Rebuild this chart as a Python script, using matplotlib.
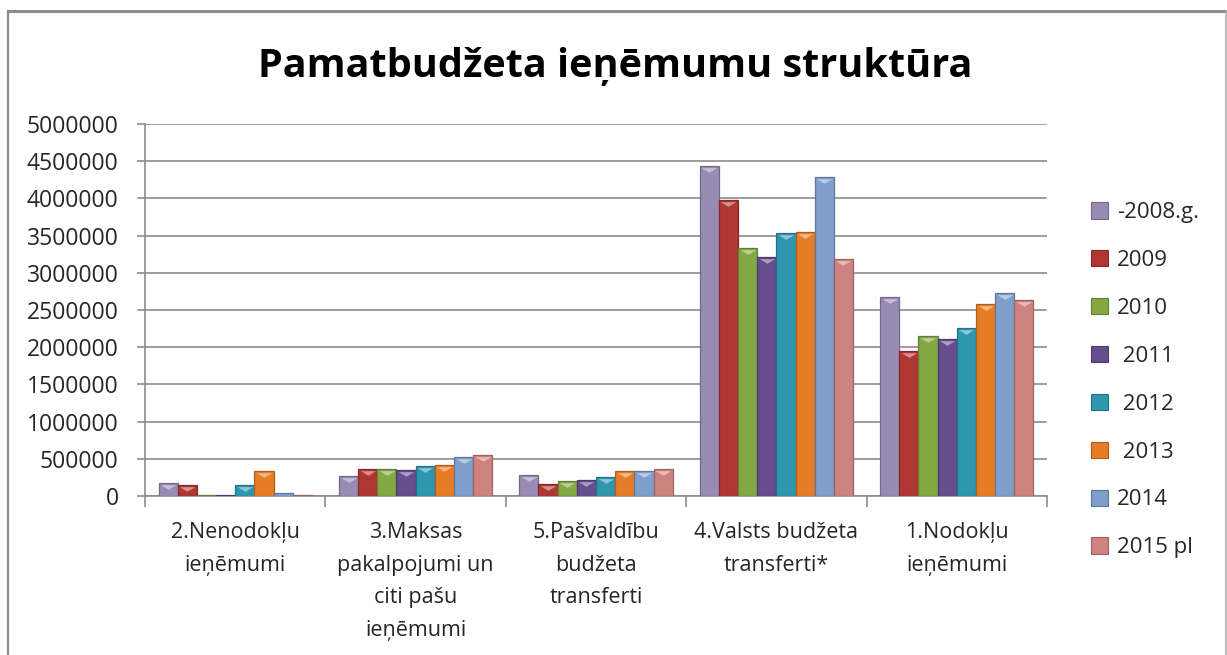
import matplotlib
matplotlib.use("Agg")
import matplotlib.pyplot as plt
import numpy as np
from matplotlib.lines import Line2D
from matplotlib.patches import Patch
from matplotlib.path import Path
import matplotlib.transforms as mtransforms
import matplotlib.colors as mcolors

plt.rcParams['font.family'] = ['Open Sans', 'DejaVu Sans']

title = "Pamatbudžeta ieņēmumu struktūra"
categories = [
    "2.Nenodokļu\nieņēmumi",
    "3.Maksas\npakalpojumi un\nciti pašu\nieņēmumi",
    "5.Pašvaldību\nbudžeta\ntransferti",
    "4.Valsts budžeta\ntransferti*",
    "1.Nodokļu\nieņēmumi",
]
series_labels = ["-2008.g.", "2009", "2010", " 2011", " 2012", " 2013", "2014", "2015 pl"]

v2008 = [178000, 265000, 284000, 4433000, 2671000]
v2009 = [143000, 369000, 162000, 3975000, 1949000]
v2010 = [8000, 360000, 197000, 3333000, 2151000]
v2011 = [15000, 355000, 220000, 3218000, 2116000]
v2012 = [148000, 400000, 252000, 3531000, 2254000]
v2013 = [338000, 414000, 342000, 3548000, 2586000]
v2014 = [40000, 518000, 342000, 4293000, 2734000]
v2015 = [20000, 545000, 360000, 3190000, 2634000]
series_values = [v2008, v2009, v2010, v2011, v2012, v2013, v2014, v2015]

colors = ["#9a8bb4", "#b03634", "#84a843", "#654d8e", "#2f96b0", "#e67d26", "#7f9fcb", "#cf8381"]

yticks = [0, 500000, 1000000, 1500000, 2000000, 2500000, 3000000, 3500000, 4000000, 4500000, 5000000]

W, H = 1227, 655
fig = plt.figure(figsize=(W / 100, H / 100), dpi=100)
fig.patch.set_facecolor("white")

ax = fig.add_axes([145 / W, 1 - 496 / H, (1047 - 145) / W, (496 - 124) / H])

n = len(series_values)
group_w = 0.85
bw = group_w / n
x = np.arange(len(categories))

tri = Path([(-1, 0.3), (1, 0.3), (0, -0.3), (-1, 0.3)],
           [Path.MOVETO, Path.LINETO, Path.LINETO, Path.CLOSEPOLY])
tri_offset = mtransforms.ScaledTranslation(0, -4 / 100, fig.dpi_scale_trans)

for i, (vals, col, lab) in enumerate(zip(series_values, colors, series_labels)):
    pos = x - group_w / 2 + bw * (i + 0.5)
    rgb = np.array(mcolors.to_rgb(col))
    dark = tuple(rgb * 0.75)
    light = tuple(rgb + (1 - rgb) * 0.45)
    ax.bar(pos, vals, width=bw, color=col, edgecolor=dark, linewidth=0.9, zorder=3)
    big = [(p, v) for p, v in zip(pos, vals) if v > 80000]
    if big:
        bp, bv = zip(*big)
        ax.plot(bp, bv, linestyle="none", marker=tri, markersize=11,
                markerfacecolor=light, markeredgecolor="none", zorder=4,
                transform=ax.transData + tri_offset)

ax.set_ylim(0, 5000000)
ax.set_xlim(-0.5, len(categories) - 0.5)
ax.set_yticks(yticks)
ax.set_yticklabels([str(t) for t in yticks], fontsize=16.5, color="#262626")
ax.yaxis.grid(True, color="#8c8c8c", linewidth=1.2, zorder=0)
ax.set_axisbelow(True)

ax.set_xticks(x)
ax.set_xticklabels(categories, fontsize=15.5, color="#262626", linespacing=1.72, va="top")
ax.tick_params(axis="x", which="major", length=0, pad=19)
ax.set_xticks(np.arange(-0.5, len(categories)), minor=True)
ax.tick_params(axis="x", which="minor", length=8, color="#8c8c8c", width=1.2, direction="out")
ax.tick_params(axis="y", length=6, color="#8c8c8c", width=1.2, direction="out", pad=13)

for s in ["top", "right"]:
    ax.spines[s].set_visible(False)
for s in ["left", "bottom"]:
    ax.spines[s].set_color("#8c8c8c")
    ax.spines[s].set_linewidth(1.2)

fig.text(615 / W, 1 - 66 / H, title, ha="center", va="center",
         fontsize=28.5, fontweight="bold", color="black")

handles = [Patch(facecolor=c, edgecolor=tuple(np.array(mcolors.to_rgb(c)) * 0.75), linewidth=0.8) for c in colors]
leg = fig.legend(handles, series_labels, loc="upper left",
                 bbox_to_anchor=(1080 / W, 1 - 191 / H), frameon=False,
                 fontsize=16, handlelength=0.75, handleheight=0.75,
                 handletextpad=0.4, labelspacing=1.21, borderpad=0)
for t in leg.get_texts():
    t.set_color("#262626")

# outer frame
fc = "#8c8c8c"
fig.add_artist(Line2D([8 / W, 8 / W], [0, 1 - 11 / H], transform=fig.transFigure, color=fc, lw=1.6))
fig.add_artist(Line2D([8 / W, 1226 / W], [1 - 11 / H, 1 - 11 / H], transform=fig.transFigure, color=fc, lw=2.2))
fig.add_artist(Line2D([1226 / W, 1226 / W], [0, 1 - 11 / H], transform=fig.transFigure, color="#b0b0b0", lw=1.2))

fig.savefig("out.png", dpi=100)
